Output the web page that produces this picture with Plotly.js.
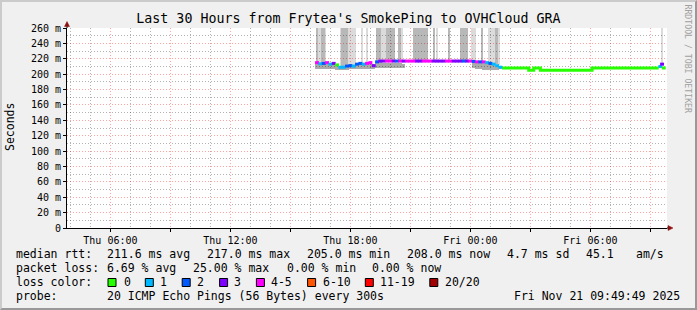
<!DOCTYPE html>
<html><head><meta charset="utf-8">
<script src="https://cdn.plot.ly/plotly-3.0.1.min.js"></script>
<style>
html,body{margin:0;padding:0;background:#f0f0f0;}
#wrap{position:relative;width:697px;height:310px;overflow:hidden;}
#chart{position:absolute;left:0;top:0;width:697px;height:310px;}
#frame{position:absolute;left:0;top:0;width:697px;height:310px;box-sizing:border-box;border-style:solid;border-width:2px;border-color:#cbcbcb #999999 #999999 #cbcbcb;pointer-events:none;}
</style></head><body>
<div id="wrap"><div id="chart"></div><div id="frame"></div></div>
<script>
// ---------------- data ----------------
const titleText = "Last 30 Hours from Frytea's SmokePing to OVHCloud GRA";
const rangeStart = '2025-11-20 03:49:49';
const rangeEnd = '2025-11-21 09:49:49';

// x axis: labels every 6 h (Thu 06:00 ...), red grid every 3 h, grey grid every hour
const xTickStart = '2025-11-20 06:00';
const xTickFormat = '%a %H:%M';
// y axis labels
const yTickVals = [0,20,40,60,80,100,120,140,160,180,200,220,240,260];
const yTickText = ['0','20 m','40 m','60 m','80 m','100 m','120 m','140 m','160 m','180 m','200 m','220 m','240 m','260 m'];

// loss colour legend
const lossLabels = ['0','1','2','3','4-5','6-10','11-19','20/20'];
const lossColors = ['#26ff00','#00b8ff','#0059ff','#7e00ff','#ff00ff','#ff5500','#ff0000','#a00000'];
const lossUpper  = [0,1,2,3,5,10,19,20];

// median RTT (ms), samples every 10 min starting Thu 16:20, with lost pings (of 20)
const medStart = '2025-11-20 16:20';
const medStepMin = 10;
const medMs = [215,213.5,214,215,213,214,212,209,209,210.5,211,210.5,213,214,213,214,215,211,
  216,217,217,217,217,217,217,217,217,217,217,217,217,217,217,217,217,217,217,217,217,217,217,217,217,217,217,217,217,
  216.5,216,216,216,215,214,213,211,209];
const medLoss = [5,1,2,4,1,3,0,1,1,2,2,1,2,2,1,4,5,3,
  2,3,3,4,5,3,2,4,3,4,5,4,3,3,4,5,4,3,3,3,3,4,4,3,3,3,2,3,4,
  2,4,2,4,1,2,1,1,1];

// loss-free stretch afterwards (value changes only)
const tailTimes = ['2025-11-21 01:35','2025-11-21 02:55','2025-11-21 03:10','2025-11-21 03:30','2025-11-21 06:05','2025-11-21 09:25'];
const tailMs = [208,205,208,205,208,208];

// last samples
const lastTimes = ['2025-11-21 09:30','2025-11-21 09:35','2025-11-21 09:40'];
const lastMs = [210,213,208];
const lastLoss = [1,3,0];

// smoke columns (individual ping spread), shade 1 = light, 2 = darker
const smokeFrom = ['2025-11-20 16:20','2025-11-20 16:25','2025-11-20 16:35','2025-11-20 16:45','2025-11-20 17:30','2025-11-20 17:35','2025-11-20 17:55','2025-11-20 18:35','2025-11-20 18:50','2025-11-20 19:20','2025-11-20 19:35','2025-11-20 19:50','2025-11-20 20:25','2025-11-20 20:35','2025-11-20 21:10','2025-11-20 22:10','2025-11-20 22:20','2025-11-20 22:55','2025-11-20 23:30','2025-11-21 00:05','2025-11-21 00:35','2025-11-21 00:55','2025-11-21 01:15','2025-11-21 01:25','2025-11-21 09:35'];
const smokeTo   = ['2025-11-20 16:20','2025-11-20 16:30','2025-11-20 16:40','2025-11-20 16:45','2025-11-20 17:30','2025-11-20 17:50','2025-11-20 18:15','2025-11-20 18:35','2025-11-20 18:50','2025-11-20 19:30','2025-11-20 19:45','2025-11-20 20:10','2025-11-20 20:30','2025-11-20 20:35','2025-11-20 21:50','2025-11-20 22:10','2025-11-20 22:20','2025-11-20 22:55','2025-11-20 23:50','2025-11-21 00:15','2025-11-21 00:35','2025-11-21 01:10','2025-11-21 01:20','2025-11-21 01:25','2025-11-21 09:35'];
const smokeShade = [2,1,2,1,1,2,1,1,1,2,1,2,2,1,2,2,1,2,2,1,2,1,2,1,1];
const smokeLoMs = [213,212,212,212,210,211,212,213,213,216,216,216,216,216,216,216,216,216,216,216,215,214,213,212,213];
const smokeHiMs = [300,280,310,275,290,320,285,270,275,330,290,340,300,280,360,310,285,300,350,290,305,285,300,280,275];

// dense smoke band around the median, 10-min samples
const band1Start = '2025-11-20 16:20';
const band1Lo = [207,207,206.5,207,207,206.5,206,206,206,206,206.5,206.5,207,207,207,207,207,207,207.5,207.5,207.5,207.5,207.5,207.5,208,208,208.5];
const band1Hi = [216,215,215,216,214,215,213,211,211,212,213,212,214,215,214,215,216,213,216.5,216,215,215,214.5,214.5,214,214,213];
const band2Start = '2025-11-21 00:10';
const band2Lo = [207.5,207,206.5,206,206,206,206,206,207];
const band2Hi = [216,216,216,215,214,213,212,210,209];

// ---------------- helpers ----------------
function parseT(s){ const p = s.length > 16 ? s : s + ':00'; return Date.parse(p.replace(' ','T') + 'Z'); }
const MIN = 60000, HOUR = 3600000;
function seq(start, n, stepMin){ const t0 = parseT(start); return Array.from({length:n}, (_, i) => t0 + i*stepMin*MIN); }
function colorFor(n){ for (let i=0;i<lossUpper.length;i++){ if (n <= lossUpper[i]) return lossColors[i]; } return lossColors[lossColors.length-1]; }

const medX = seq(medStart, medMs.length, medStepMin);

function smokeTrace(shade, color){
  const x=[], w=[], base=[], y=[];
  smokeShade.forEach((s,i)=>{
    if (s!==shade) return;
    const a = parseT(smokeFrom[i]) - 2.5*MIN, b = parseT(smokeTo[i]) + 2.5*MIN;
    x.push((a+b)/2); w.push(b-a); base.push(smokeLoMs[i]); y.push(smokeHiMs[i]-smokeLoMs[i]);
  });
  return {type:'bar', x, y, base, width:w, marker:{color, line:{width:0}}, hoverinfo:'skip', showlegend:false};
}
function bandTrace(start, lo, hi){
  return {type:'bar', x: seq(start, lo.length, 10), base: lo, y: hi.map((h,i)=>h-lo[i]),
    width: lo.map(()=>10*MIN), marker:{color:'rgba(0,0,0,0.33)', line:{width:0}}, hoverinfo:'skip', showlegend:false};
}

const traces = [
  smokeTrace(1, 'rgba(0,0,0,0.14)'),
  smokeTrace(2, 'rgba(0,0,0,0.28)'),
  bandTrace(band1Start, band1Lo, band1Hi),
  bandTrace(band2Start, band2Lo, band2Hi),
  {type:'scatter', mode:'lines', x: tailTimes.map(parseT), y: tailMs, line:{shape:'hv', color: lossColors[0], width:3}, hoverinfo:'skip', showlegend:false},
  {type:'scatter', mode:'markers', x: medX, y: medMs, marker:{symbol:'line-ew', size:2.8, line:{width:3, color: medLoss.map(colorFor)}}, hoverinfo:'skip', showlegend:false},
  {type:'scatter', mode:'markers', x: lastTimes.map(parseT), y: lastMs, marker:{symbol:'line-ew', size:2.8, line:{width:3, color: lastLoss.map(colorFor)}}, hoverinfo:'skip', showlegend:false}
];

// ---------------- layout ----------------
const L=67, T=28, W=600, H=200;
const px = x => (x-L)/W;
const py = y => (T+H-y)/H;
const MONO = 'DejaVu Sans Mono';
const legFont = {family: MONO, size: 11.5, color:'#000'};

const annotations = [];
function txt(t, x, y, anchor){ annotations.push({text:t, xref:'paper', yref:'paper', x: px(anchor==='right'? x+2 : x-2), y: py(y), xanchor: anchor||'left', yanchor:'middle', showarrow:false, font: legFont}); }
txt('median rtt:', 16, 254); txt('211.6 ms avg', 107, 254); txt('217.0 ms max', 207, 254); txt('205.0 ms min', 306.5, 254);
txt('208.0 ms now', 407, 254); txt('4.7 ms sd', 506.5, 254); txt('45.1', 586, 254); txt('am/s', 636, 254);
txt('packet loss:', 16, 268); txt('6.69 % avg', 107, 268); txt('25.00 % max', 193, 268); txt('0.00 % min', 287, 268); txt('0.00 % now', 372, 268);
txt('loss color:', 16, 282);
txt('probe:', 16, 296); txt('20 ICMP Echo Pings (56 Bytes) every 300s', 107, 296); txt('Fri Nov 21 09:49:49 2025', 680, 296, 'right');

const swatchX = [108, 145.3, 182.2, 219.6, 256.4, 307.6, 365.3, 429.8];
const swatchLabelX = [123.5, 160, 197, 234, 271, 322.7, 380, 445];
const shapes = [];
lossLabels.forEach((lab, i) => {
  shapes.push({type:'rect', xref:'paper', yref:'paper', x0: px(swatchX[i]), x1: px(swatchX[i]+8), y0: py(286.5), y1: py(278.5),
    fillcolor: lossColors[i], line:{color:'#000', width:1}, layer:'above'});
  txt(lab, swatchLabelX[i], 282);
});

// y axis title + watermark
annotations.push({text:'Seconds', xref:'paper', yref:'paper', x: px(10), y: py(127), textangle:-90, xanchor:'center', yanchor:'middle', showarrow:false, font:{family: MONO, size:11.5, color:'#000'}});
annotations.push({text:'RRDTOOL / TOBI OETIKER', xref:'paper', yref:'paper', x: px(687.5), y: py(59), textangle:90, xanchor:'center', yanchor:'middle', showarrow:false, font:{family: MONO, size:8.2, color:'#a0a0a0'}});

// axis arrows
const arrowCol = '#8b1010';
shapes.push({type:'line', xref:'paper', yref:'paper', x0: px(667), x1: px(669), y0: 0, y1: 0, line:{color:'#000', width:1}, layer:'above'});
shapes.push({type:'path', xref:'paper', yref:'paper', path: `M ${px(673)} ${py(228)} L ${px(668)} ${py(225.5)} L ${px(668)} ${py(230.5)} Z`, fillcolor: arrowCol, line:{color: arrowCol, width:0.5}, layer:'above'});
shapes.push({type:'line', xref:'paper', yref:'paper', x0: 0, x1: 0, y0: 1, y1: py(25), line:{color:'#000', width:1}, layer:'above'});
shapes.push({type:'path', xref:'paper', yref:'paper', path: `M ${px(67)} ${py(21.5)} L ${px(64.5)} ${py(26.5)} L ${px(69.5)} ${py(26.5)} Z`, fillcolor: arrowCol, line:{color: arrowCol, width:0.5}, layer:'above'});

// label aliases for the y axis ("20" -> "20 m")
const yAlias = {};
yTickVals.forEach((v, i) => { yAlias[String(v)] = yTickText[i]; });

const majorGrid = 'rgba(255,0,0,0.36)';
const minorGrid = 'rgba(0,0,0,0.3)';
const layout = {
  width: 697, height: 310,
  margin: {l: L, r: 697-L-W, t: T, b: 310-T-H, pad: 0},
  paper_bgcolor: 'rgba(0,0,0,0)', plot_bgcolor: '#ffffff',
  font: {family: MONO, size: 10, color: '#000'},
  title: {text: titleText, font: {family: MONO, size: 13.3, color: '#000'}, x: 0.5, xref: 'container', xanchor: 'center', y: 1 - 18/310, yref: 'container', yanchor: 'middle'},
  barmode: 'overlay', bargap: 0,
  showlegend: false,
  xaxis: {type: 'date', range: [parseT(rangeStart), parseT(rangeEnd)], fixedrange: true,
    tickmode: 'linear', tick0: parseT(xTickStart), dtick: 3*HOUR, ticklabelstep: 2, tickformat: xTickFormat, tickangle: 0,
    showgrid: true, gridcolor: majorGrid, griddash: '1px,2px', gridwidth: 1,
    minor: {tickmode: 'linear', tick0: parseT(xTickStart), dtick: HOUR, showgrid: true, gridcolor: minorGrid, griddash: '1px,2px', gridwidth: 1, ticks: ''},
    ticks: 'outside', ticklen: 3, tickcolor: '#000', showline: true, linecolor: '#000', linewidth: 1,
    zeroline: false, tickfont: {family: MONO, size: 10, color: '#000'}},
  yaxis: {range: [0, 260], fixedrange: true,
    tickmode: 'linear', tick0: 0, dtick: 20, labelalias: yAlias,
    showgrid: true, gridcolor: majorGrid, griddash: '1px,2px', gridwidth: 1,
    minor: {tickmode: 'linear', tick0: 0, dtick: 10, showgrid: true, gridcolor: minorGrid, griddash: '1px,2px', gridwidth: 1, ticks: ''},
    ticks: 'outside', ticklen: 3, tickcolor: '#000', showline: true, linecolor: '#000', linewidth: 1,
    zeroline: false, tickfont: {family: MONO, size: 10, color: '#000'}},
  annotations, shapes
};

Plotly.newPlot('chart', traces, layout, {staticPlot: true, displayModeBar: false});
</script>
</body></html>
